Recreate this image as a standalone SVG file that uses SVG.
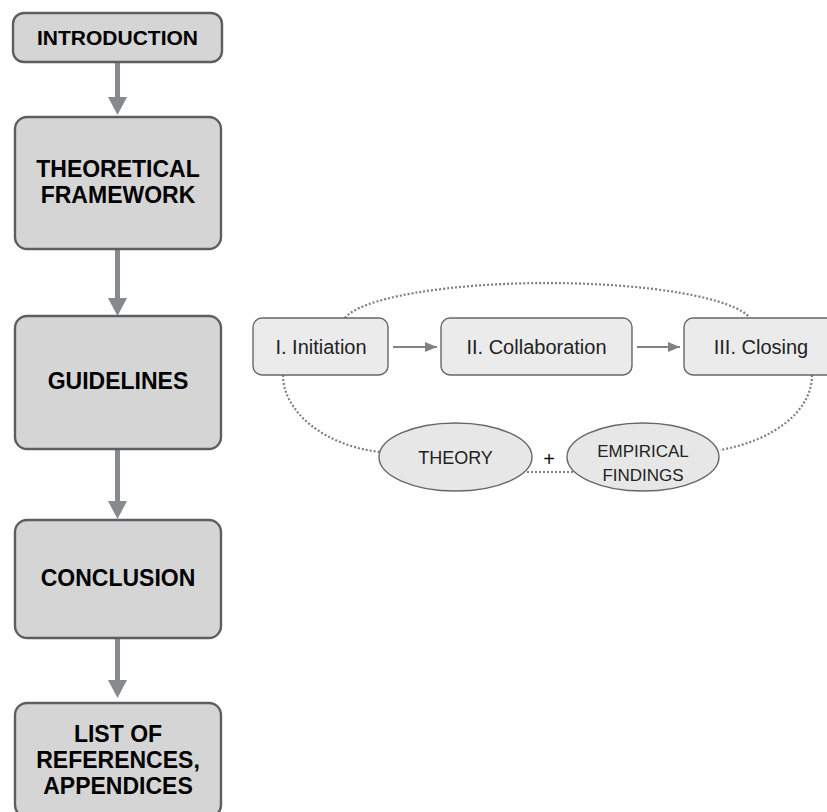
<svg xmlns="http://www.w3.org/2000/svg" width="827" height="812" viewBox="0 0 827 812">
<style>
.main{fill:#d5d5d5;stroke:#5b5e62;stroke-width:2.4}
.mt{font-family:"Liberation Sans",Arial,sans-serif;font-weight:bold;font-size:23px;fill:#000;text-anchor:middle}
.step{fill:#ebebeb;stroke:#676767;stroke-width:1.4}
.st{font-family:"Liberation Sans",Arial,sans-serif;font-size:20px;fill:#222;text-anchor:middle}
.ell{fill:#e7e7e7;stroke:#676767;stroke-width:1.4}
.et{font-family:"Liberation Sans",Arial,sans-serif;font-size:17px;fill:#222;text-anchor:middle}
.big{stroke:#86898d;stroke-width:5;fill:none}
.bighead{fill:#86898d}
.small{stroke:#7e8185;stroke-width:2;fill:none}
.dot{stroke:#7f7f7f;stroke-width:2.2;stroke-dasharray:2 2;fill:none}
</style>
<defs>
<marker id="ah" markerWidth="12" markerHeight="10" refX="12" refY="5" orient="auto" markerUnits="userSpaceOnUse">
<path d="M0,0 L12,5 L0,10 Z" fill="#7e8185"/>
</marker>
</defs>
<g id="connectors">
<line class="big" x1="117.5" y1="62" x2="117.5" y2="98"/>
<polygon class="bighead" points="108,97 127,97 117.5,115"/>
<line class="big" x1="117.5" y1="249" x2="117.5" y2="299"/>
<polygon class="bighead" points="108,298 127,298 117.5,316"/>
<line class="big" x1="117.5" y1="449" x2="117.5" y2="502"/>
<polygon class="bighead" points="108,501 127,501 117.5,519"/>
<line class="big" x1="117.5" y1="638" x2="117.5" y2="681"/>
<polygon class="bighead" points="108,680 127,680 117.5,698"/>
<line class="small" x1="393" y1="347" x2="437" y2="347" marker-end="url(#ah)"/>
<line class="small" x1="637" y1="347" x2="680" y2="347" marker-end="url(#ah)"/>
<path class="dot" d="M345,318 A205,41.4 0 0 1 750,318"/>
<path class="dot" d="M283,375 C283,412 325,446 380,452"/>
<path class="dot" d="M812,375 C812,412 772,441 720,450"/>
<line class="dot" x1="527" y1="472" x2="573" y2="472"/>
</g>
<g id="introduction">
<rect class="main" x="13" y="13" width="209" height="49" rx="11"/>
<text class="mt" x="117.5" y="45" style="font-size:21px">INTRODUCTION</text>
</g>
<g id="theoretical-framework">
<rect class="main" x="15" y="117" width="206" height="132" rx="12"/>
<text class="mt" x="118" y="177">THEORETICAL</text>
<text class="mt" x="118" y="203">FRAMEWORK</text>
</g>
<g id="guidelines">
<rect class="main" x="15" y="316" width="206" height="133" rx="12"/>
<text class="mt" x="118" y="389">GUIDELINES</text>
</g>
<g id="conclusion">
<rect class="main" x="15" y="520" width="206" height="118" rx="12"/>
<text class="mt" x="118" y="586">CONCLUSION</text>
</g>
<g id="references">
<rect class="main" x="15" y="703" width="206" height="114" rx="12"/>
<text class="mt" x="118" y="742">LIST OF</text>
<text class="mt" x="118" y="768">REFERENCES,</text>
<text class="mt" x="118" y="794">APPENDICES</text>
</g>
<g id="initiation">
<rect class="step" x="253" y="318" width="135" height="57" rx="9"/>
<text class="st" x="321" y="354">I. Initiation</text>
</g>
<g id="collaboration">
<rect class="step" x="441" y="318" width="191" height="57" rx="9"/>
<text class="st" x="536.5" y="354">II. Collaboration</text>
</g>
<g id="closing">
<rect class="step" x="684" y="318" width="154" height="57" rx="9"/>
<text class="st" x="761" y="354">III. Closing</text>
</g>
<g id="theory">
<ellipse class="ell" cx="455.5" cy="457" rx="76.5" ry="34"/>
<text class="et" x="455.5" y="464" style="font-size:18px">THEORY</text>
</g>
<text id="plus" x="549" y="466" style="font-family:'Liberation Sans',Arial,sans-serif;font-size:20px;fill:#111;text-anchor:middle">+</text>
<g id="empirical-findings">
<ellipse class="ell" cx="643" cy="457" rx="76" ry="34"/>
<text class="et" x="643" y="457">EMPIRICAL</text>
<text class="et" x="643" y="481">FINDINGS</text>
</g>
</svg>
